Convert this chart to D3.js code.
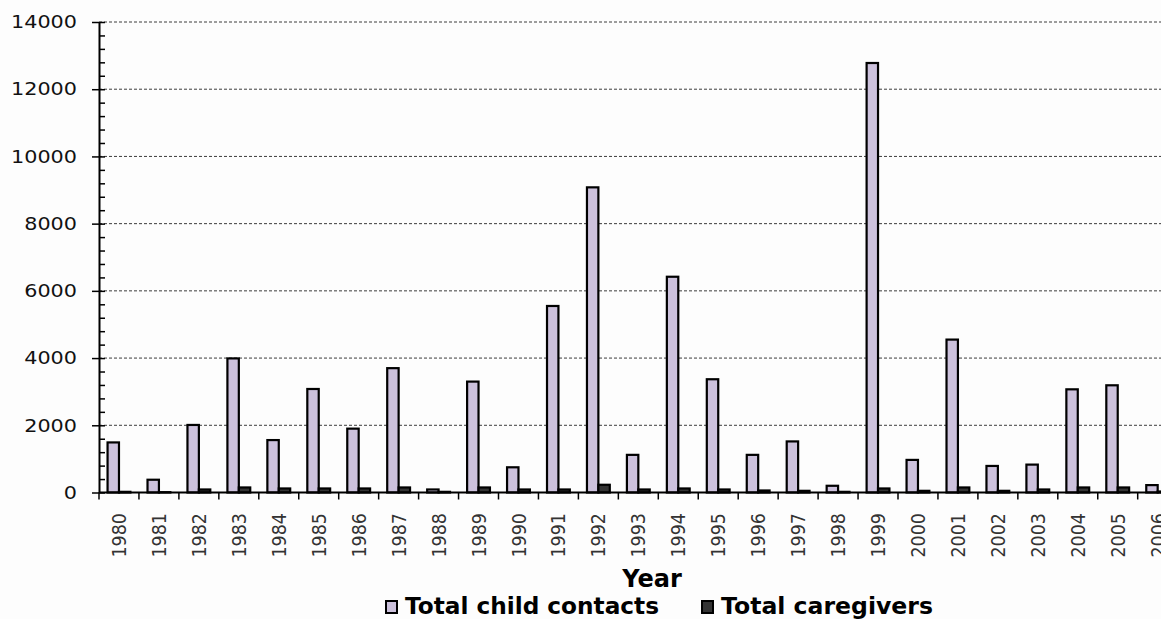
<!DOCTYPE html>
<html>
<head>
<meta charset="utf-8">
<script src="https://cdn.jsdelivr.net/npm/d3@7"></script>
<style>
  body { margin: 0; background: #fdfdfd; }
  svg { display: block; }
</style>
</head>
<body>
<svg id="chart" width="1161" height="619"></svg>
<script>
// Yearly totals
const years = ["1980","1981","1982","1983","1984","1985","1986","1987","1988","1989",
               "1990","1991","1992","1993","1994","1995","1996","1997","1998","1999",
               "2000","2001","2002","2003","2004","2005","2006"];
const childContacts = [1490, 380, 2010, 3990, 1560, 3080, 1900, 3700, 90, 3300,
                       750, 5550, 9080, 1120, 6420, 3370, 1120, 1520, 200, 12780,
                       970, 4550, 790, 830, 3070, 3190, 220];
const caregivers = [20, 10, 90, 150, 120, 120, 120, 150, 20, 150,
                    90, 90, 230, 90, 120, 90, 60, 50, 20, 120,
                    50, 150, 50, 90, 150, 150, 30];
const yTicks = [0, 2000, 4000, 6000, 8000, 10000, 12000, 14000];
const seriesNames = ["Total child contacts", "Total caregivers"];
const seriesColors = ["#ccc1dc", "#333333"];
const axisTitle = "Year";

const svg = d3.select("#chart");
const W = 1161;
const plotLeft = 99, plotBottom = 492.5, plotTop = 22, step = 39.95;

const x = d3.scaleBand().domain(years)
  .range([plotLeft, plotLeft + step * years.length]).padding(0);
const xs = d3.scaleBand().domain([0, 1])
  .range([0, x.bandwidth()]).paddingInner(0).paddingOuter(0.75);
const y = d3.scaleLinear().domain([0, 14000]).range([plotBottom, plotTop]);

// dashed horizontal gridlines
svg.append("g").selectAll("line")
  .data(yTicks.filter(d => d > 0)).join("line")
  .attr("x1", plotLeft).attr("x2", W)
  .attr("y1", d => y(d)).attr("y2", d => y(d))
  .attr("stroke", "#3c3c3c").attr("stroke-width", 1)
  .attr("stroke-dasharray", "3,2");

// bars
const rows = years.map((yr, i) => ({ yr, vals: [childContacts[i], caregivers[i]] }));
const groups = svg.append("g").selectAll("g").data(rows).join("g")
  .attr("transform", d => `translate(${x(d.yr)},0)`);
groups.selectAll("rect")
  .data(d => d.vals.map((v, k) => ({ v, k })))
  .join("rect")
  .attr("x", d => xs(d.k))
  .attr("width", xs.bandwidth())
  .attr("y", d => y(d.v))
  .attr("height", d => y(0) - y(d.v))
  .attr("fill", d => seriesColors[d.k])
  .attr("stroke", "#000").attr("stroke-width", 2.2);

// y axis: major ticks to the left, minor ticks to the right
const yAxis = svg.append("g").attr("transform", `translate(${plotLeft},0)`)
  .call(d3.axisLeft(y).tickValues(yTicks).tickSize(7).tickSizeOuter(0).tickFormat(d3.format("d")));
yAxis.select(".domain").attr("stroke", "#000").attr("stroke-width", 2);
yAxis.selectAll(".tick line").attr("stroke", "#000").attr("stroke-width", 1.5);
yAxis.selectAll(".tick text")
  .attr("x", -22)
  .attr("font-family", "'DejaVu Sans', Verdana, sans-serif")
  .attr("font-size", 18)
  .attr("fill", "#111")
  .attr("textLength", d => String(d).length * 13.2)
  .attr("lengthAdjust", "spacingAndGlyphs");

const minor = svg.append("g").attr("transform", `translate(${plotLeft},0)`)
  .call(d3.axisRight(y).tickValues(d3.range(0, 14001, 400)).tickSize(6).tickFormat(""));
minor.select(".domain").remove();
minor.selectAll(".tick line").attr("stroke", "#000").attr("stroke-width", 1.5);

// x axis baseline and category boundary ticks
svg.append("line")
  .attr("x1", plotLeft).attr("x2", W).attr("y1", y(0)).attr("y2", y(0))
  .attr("stroke", "#000").attr("stroke-width", 2);
const bounds = years.map(d => x(d)).concat([x(years[years.length - 1]) + x.bandwidth()]);
svg.append("g").selectAll("line").data(bounds).join("line")
  .attr("x1", d => d).attr("x2", d => d)
  .attr("y1", y(0)).attr("y2", y(0) + 7)
  .attr("stroke", "#000").attr("stroke-width", 1.5);

// rotated year labels
svg.append("g").selectAll("text").data(years).join("text")
  .attr("transform", d => `translate(${x(d) + x.bandwidth() / 2},513) scale(1.12,1) rotate(-90)`)
  .attr("text-anchor", "end")
  .attr("dy", "0.36em")
  .attr("font-family", "'DejaVu Sans', Verdana, sans-serif")
  .attr("font-size", 17.5)
  .attr("fill", "#333")
  .text(d => d);

// axis title
svg.append("text")
  .attr("x", 652).attr("y", 587)
  .attr("text-anchor", "middle")
  .attr("font-family", "'DejaVu Sans', Verdana, sans-serif")
  .attr("font-weight", "bold").attr("font-size", 24)
  .attr("fill", "#000")
  .text(axisTitle);

// legend
const legendX = [386, 702];
const legendW = [254, 212];
const lg = svg.append("g").selectAll("g").data(seriesNames).join("g")
  .attr("transform", (d, i) => `translate(${legendX[i]},0)`);
lg.append("rect")
  .attr("x", 0).attr("y", 601).attr("width", 11).attr("height", 12)
  .attr("fill", (d, i) => seriesColors[i])
  .attr("stroke", "#000").attr("stroke-width", 2);
lg.append("text")
  .attr("x", 19).attr("y", 613.5)
  .attr("font-family", "'DejaVu Sans', Verdana, sans-serif")
  .attr("font-weight", "bold").attr("font-size", 22.5)
  .attr("textLength", (d, i) => legendW[i])
  .attr("lengthAdjust", "spacingAndGlyphs")
  .attr("fill", "#000")
  .text(d => d);
</script>
</body>
</html>
